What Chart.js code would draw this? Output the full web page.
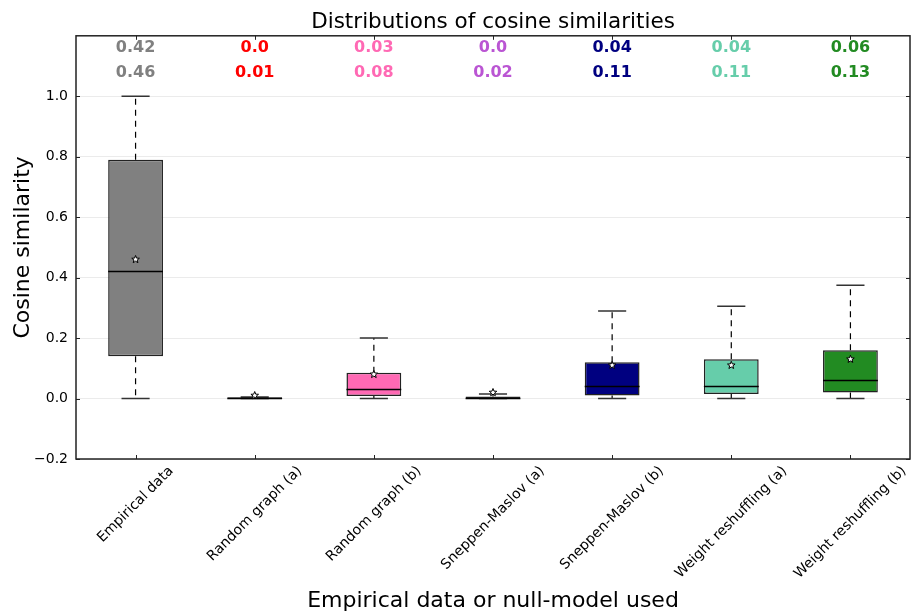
<!DOCTYPE html>
<html>
<head>
<meta charset="utf-8">
<script src="https://cdn.jsdelivr.net/npm/chart.js@4/dist/chart.umd.min.js"></script>
<style>
  html, body { margin: 0; padding: 0; background: #fff; }
  #c { display: block; }
</style>
</head>
<body>
<canvas id="c" width="913" height="614"></canvas>
<script>
// Categories: empirical data followed by the null models
const categories = [
  'Empirical data', 'Random graph (a)', 'Random graph (b)',
  'Sneppen-Maslov (a)', 'Sneppen-Maslov (b)',
  'Weight reshuffling (a)', 'Weight reshuffling (b)'
];
const boxColors = ['#808080', '#ff0000', '#ff69b4', '#ba55d3', '#000080', '#66cdaa', '#228b22'];

// Box plot statistics per category
const whiskerLow  = [0.0,  0.0,   0.0,   0.0,   0.0,   0.0,   0.0];
const quartile1   = [0.14, 0.0,   0.008, 0.0,   0.01,  0.015, 0.02];
const medians     = [0.42, 0.0,   0.03,  0.0,   0.04,  0.04,  0.06];
const quartile3   = [0.79, 0.004, 0.085, 0.007, 0.12,  0.13,  0.16];
const whiskerHigh = [1.0,  0.005, 0.2,   0.015, 0.29,  0.305, 0.375];
const means       = [0.46, 0.01,  0.08,  0.02,  0.11,  0.11,  0.13];

// Y axis tick values that carry a label
const yTickLabels = [-0.2, 0.0, 0.2, 0.4, 0.6, 0.8, 1.0];

const FONT = 'DejaVu Sans';
const TICK_FONT_SIZE = 14;
Chart.defaults.font.family = FONT;
Chart.defaults.color = '#000';

// Python-style short number text: 0 -> "0.0", 0.03 -> "0.03"
function shortNum(v) {
  const s = String(Math.round(v * 100) / 100);
  return s.includes('.') ? s : s + '.0';
}

function drawStar(ctx, cx, cy, rOut, rIn) {
  ctx.beginPath();
  for (let k = 0; k < 10; k++) {
    const r = k % 2 === 0 ? rOut : rIn;
    const a = -Math.PI / 2 + k * Math.PI / 5;
    const px = cx + r * Math.cos(a), py = cy + r * Math.sin(a);
    if (k === 0) ctx.moveTo(px, py); else ctx.lineTo(px, py);
  }
  ctx.closePath();
  ctx.fillStyle = '#fff';
  ctx.fill();
  ctx.lineWidth = 1;
  ctx.strokeStyle = '#000';
  ctx.stroke();
}

const boxPlotParts = {
  id: 'boxPlotParts',
  beforeDatasetsDraw(chart) {
    // whiskers (dashed) and caps
    const { ctx, scales: { x, y } } = chart;
    const step = x.getPixelForValue(1) - x.getPixelForValue(0);
    const capHalf = step * 0.118;
    ctx.save();
    categories.forEach((_, i) => {
      const cx = x.getPixelForValue(i);
      ctx.strokeStyle = '#000';
      ctx.lineWidth = 1.2;
      ctx.setLineDash([6, 5]);
      ctx.beginPath();
      ctx.moveTo(cx, y.getPixelForValue(quartile3[i]));
      ctx.lineTo(cx, y.getPixelForValue(whiskerHigh[i]));
      ctx.moveTo(cx, y.getPixelForValue(quartile1[i]));
      ctx.lineTo(cx, y.getPixelForValue(whiskerLow[i]));
      ctx.stroke();
      ctx.setLineDash([]);
      ctx.strokeStyle = '#333';
      ctx.lineWidth = 1.5;
      ctx.beginPath();
      [whiskerHigh[i], whiskerLow[i]].forEach(v => {
        const py = y.getPixelForValue(v);
        ctx.moveTo(cx - capHalf, py);
        ctx.lineTo(cx + capHalf, py);
      });
      ctx.stroke();
    });
    ctx.restore();
  },
  afterDatasetsDraw(chart) {
    const { ctx, scales: { x, y } } = chart;
    const meta = chart.getDatasetMeta(0);
    ctx.save();
    categories.forEach((_, i) => {
      const bar = meta.data[i];
      const half = bar.width / 2;
      const cx = x.getPixelForValue(i);
      const my = y.getPixelForValue(medians[i]);
      ctx.strokeStyle = '#000';
      ctx.lineWidth = 1.5;
      ctx.beginPath();
      ctx.moveTo(cx - half, my);
      ctx.lineTo(cx + half, my);
      ctx.stroke();
      drawStar(ctx, cx, y.getPixelForValue(means[i]), 4, 1.7);

      // median and mean values above the boxes
      ctx.fillStyle = boxColors[i];
      ctx.font = 'bold 16px ' + FONT;
      ctx.textAlign = 'center';
      ctx.textBaseline = 'middle';
      ctx.fillText(shortNum(medians[i]), cx, y.getPixelForValue(1.16));
      ctx.fillText(shortNum(means[i]), cx, y.getPixelForValue(1.077));
    });
    ctx.restore();
  },
  afterDraw(chart) {
    const { ctx, chartArea: a, scales: { x, y } } = chart;
    ctx.save();
    // axes frame
    ctx.strokeStyle = '#222';
    ctx.lineWidth = 1.5;
    ctx.strokeRect(a.left, a.top, a.right - a.left, a.bottom - a.top);
    // inward tick marks
    ctx.lineWidth = 1;
    ctx.beginPath();
    yTickLabels.forEach(v => {
      const py = Math.round(y.getPixelForValue(v)) + 0.5;
      ctx.moveTo(a.left, py); ctx.lineTo(a.left + 4, py);
      ctx.moveTo(a.right, py); ctx.lineTo(a.right - 4, py);
    });
    categories.forEach((_, i) => {
      const px = Math.round(x.getPixelForValue(i)) + 0.5;
      ctx.moveTo(px, a.top); ctx.lineTo(px, a.top + 4);
      ctx.moveTo(px, a.bottom); ctx.lineTo(px, a.bottom - 4);
    });
    ctx.stroke();

    // rotated category labels, centred under each tick
    const fs = TICK_FONT_SIZE;
    ctx.font = fs + 'px ' + FONT;
    ctx.fillStyle = '#000';
    ctx.textAlign = 'center';
    ctx.textBaseline = 'middle';
    const c45 = Math.SQRT1_2;
    categories.forEach((lab, i) => {
      const w = ctx.measureText(lab).width;
      const side = (w + fs * 1.17) * c45;
      const cx = x.getPixelForValue(i);
      const cy = a.bottom + 4 + side / 2;
      ctx.save();
      ctx.translate(cx, cy);
      ctx.rotate(-Math.PI / 4);
      ctx.fillText(lab, 0, 0);
      ctx.restore();
    });

    // x axis title
    ctx.font = '22px ' + FONT;
    ctx.textBaseline = 'alphabetic';
    ctx.fillText('Empirical data or null-model used', (a.left + a.right) / 2, 607);
    ctx.restore();
  }
};

new Chart(document.getElementById('c'), {
  type: 'bar',
  data: {
    labels: categories,
    datasets: [{
      data: categories.map((_, i) => [quartile1[i], quartile3[i]]),
      backgroundColor: boxColors,
      borderColor: '#222',
      borderWidth: 1.5,
      borderSkipped: false,
      barPercentage: 0.46,
      categoryPercentage: 1.0
    }]
  },
  options: {
    responsive: false,
    devicePixelRatio: 1,
    animation: false,
    layout: { padding: { left: 6, right: 3, top: 0, bottom: 147 } },
    plugins: {
      legend: { display: false },
      tooltip: { enabled: false },
      title: {
        display: true,
        fullSize: false,
        text: 'Distributions of cosine similarities',
        color: '#000',
        font: { size: 21.5, weight: 'normal' },
        padding: { top: 10, bottom: 0 }
      }
    },
    scales: {
      x: {
        type: 'category',
        offset: true,
        grid: { display: false },
        border: { display: false },
        ticks: { display: false }
      },
      y: {
        min: -0.2,
        max: 1.2,
        afterFit(scale) { scale.width = 70; },
        grid: { color: '#ebebeb', lineWidth: 1, drawTicks: false },
        border: { display: false },
        ticks: {
          stepSize: 0.2,
          padding: 8,
          font: { size: TICK_FONT_SIZE },
          color: '#000',
          callback: v => {
            const r = Math.round(v * 10) / 10;
            if (!yTickLabels.includes(r)) return '';
            return (r < 0 ? '\u2212' : '') + Math.abs(r).toFixed(1);
          }
        },
        title: {
          display: true,
          text: 'Cosine similarity',
          color: '#000',
          font: { size: 22, weight: 'normal' },
          padding: { top: 4, bottom: 0 }
        }
      }
    }
  },
  plugins: [boxPlotParts]
});
</script>
</body>
</html>
